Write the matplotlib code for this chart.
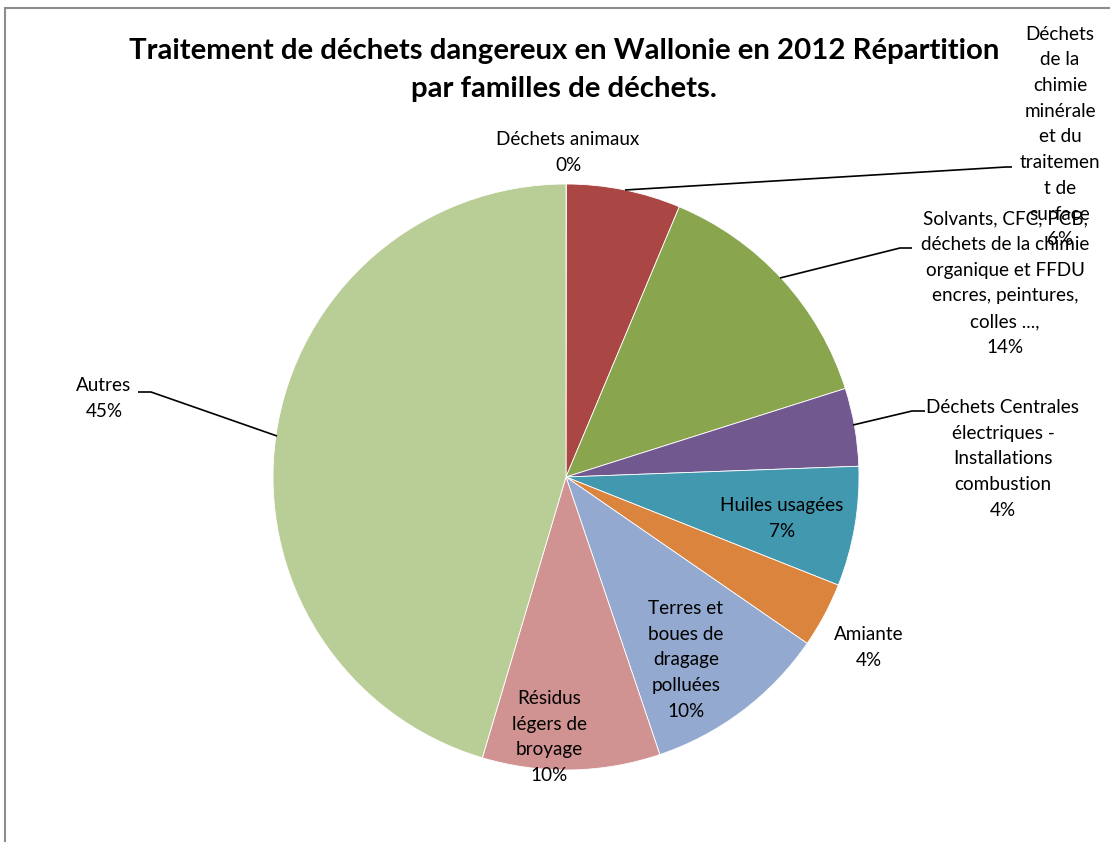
import matplotlib
matplotlib.use("Agg")
import matplotlib.pyplot as plt
from matplotlib.patches import Rectangle

# Hazardous waste treatment in Wallonia, 2012 - share by waste family (%)
categories = [
    "Déchets animaux",
    "Déchets de la chimie minérale et du traitement de surface",
    "Solvants, CFC, PCB, déchets de la chimie organique et FFDU encres, peintures, colles ...",
    "Déchets Centrales électriques - Installations combustion",
    "Huiles usagées",
    "Amiante",
    "Terres et boues de dragage polluées",
    "Résidus légers de broyage",
    "Autres",
]
# wrapped forms of the category names as they appear on the chart
label_lines = [
    "Déchets animaux",
    "Déchets\nde la\nchimie\nminérale\net du\ntraitemen\nt de\nsurface",
    "Solvants, CFC, PCB,\ndéchets de la chimie\norganique et FFDU\nencres, peintures,\ncolles ...,",
    "Déchets Centrales\nélectriques -\nInstallations\ncombustion",
    "Huiles usagées",
    "Amiante",
    "Terres et\nboues de\ndragage\npolluées",
    "Résidus\nlégers de\nbroyage",
    "Autres",
]
values = [0.02, 6.3, 13.8, 4.3, 6.6, 3.6, 10.2, 9.8, 45.4]
colors = ["#4572A7", "#AA4643", "#89A54E", "#71588F", "#4198AF",
          "#DB843D", "#93A9CF", "#D19392", "#B9CD96"]

W, H = 1110, 842
FONT = ["Lato", "DejaVu Sans"]
plt.rcParams["font.family"] = FONT


def px(x, y):
    """Convert top-left pixel coordinates to axes data coordinates."""
    return x, H - y


fig = plt.figure(figsize=(W / 100, H / 100), dpi=100)
ax = fig.add_axes([0, 0, 1, 1])

ax.pie(values, colors=colors, startangle=90, counterclock=False,
       center=px(566, 477), radius=293,
       wedgeprops=dict(edgecolor="white", linewidth=0.6))
ax.set_xlim(0, W)
ax.set_ylim(0, H)
ax.set_aspect("equal")
ax.axis("off")

# chart area border
ax.add_patch(Rectangle(px(5, 860), W + 20, 852, fill=False,
                       edgecolor="#8c8c8c", linewidth=1.5, clip_on=False))

# title
ax.text(*px(564, 70),
        "Traitement de déchets dangereux en Wallonie en 2012 Répartition\npar familles de déchets.",
        ha="center", va="center", fontsize=21.2, fontweight="bold",
        linespacing=1.53, color="black")

total = sum(values)
pcts = [f"{round(v / total * 100):.0f}%" for v in values]

label_pos = [
    (568, 152.5), (1060, 137), (1005, 283), (1003, 459), (782, 518.5),
    (869, 647.5), (686, 660), (549, 737), (104, 398.5),
]
for text, pct, (x, y) in zip(label_lines, pcts, label_pos):
    ax.text(*px(x, y), f"{text}\n{pct}", ha="center", va="center",
            multialignment="center", fontsize=13.6, linespacing=1.62,
            color="black")

# leader lines
leaders = [
    [(625, 190), (1006, 167), (1012, 167)],
    [(780, 278), (900, 248), (912, 248)],
    [(853, 425), (912, 411), (925, 411)],
    [(277, 436), (151, 392), (138, 392)],
]
for pts in leaders:
    xs, ys = zip(*[px(*p) for p in pts])
    ax.plot(xs, ys, color="black", linewidth=1.2, solid_capstyle="butt")

fig.savefig("out.png", dpi=100)
